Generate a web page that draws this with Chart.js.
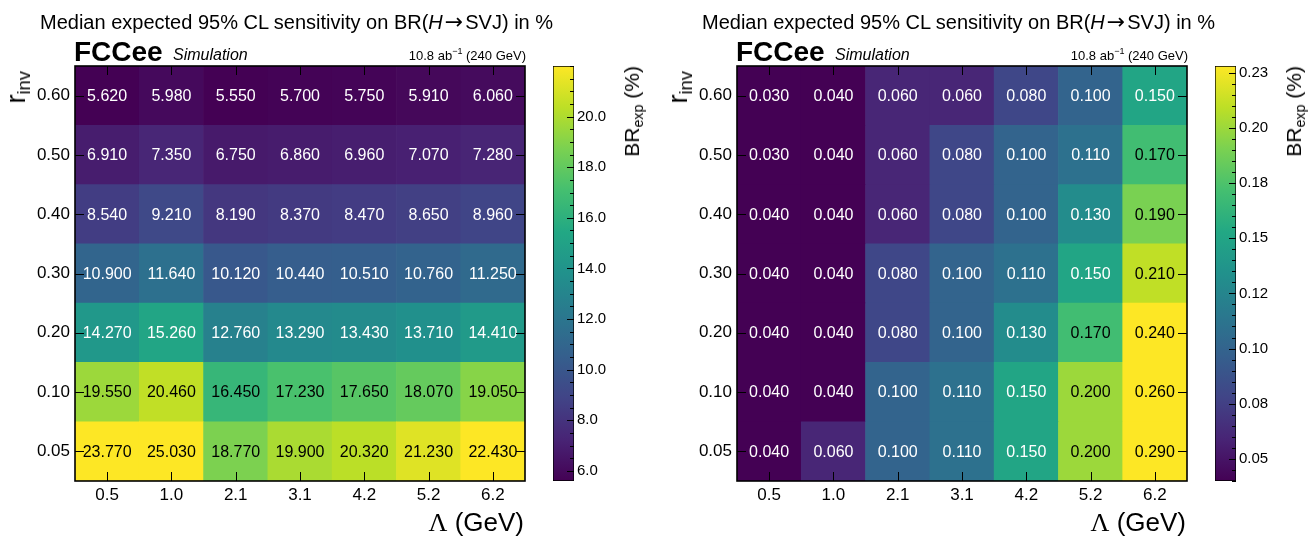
<!DOCTYPE html>
<html>
<head>
<meta charset="utf-8">
<script src="https://cdn.jsdelivr.net/npm/chart.js@4.4.1/dist/chart.umd.min.js"></script>
<style>
  html, body { margin: 0; padding: 0; background: #fff; }
  body { width: 1315px; height: 538px; position: relative; overflow: hidden;
         font-family: "Liberation Sans", Arial, sans-serif; color: #000; }
  .panel { position: absolute; top: 0; width: 660px; height: 538px; }
  .panel canvas { position: absolute; top: 0; }
  .txt { position: absolute; white-space: nowrap; line-height: 1; }
  .title { font-size: 20px; left: 40px; top: 11px; }
  .title .arr { font-family: "DejaVu Sans", sans-serif; font-size: 22px; margin: 0 2px; }
  .fcc { font-size: 28px; font-weight: bold; left: 74px; top: 38px; }
  .sim { font-size: 16px; font-style: italic; left: 173px; top: 47px; }
  .lumi { font-size: 13px; right: 134px; top: 49px; }
  .lumi sup { font-size: 9px; position: relative; top: -2px; vertical-align: top; }
  .xtitle { font-size: 26px; right: 136px; top: 509px; }
  .xtitle .sym { font-family: "Liberation Serif", "DejaVu Serif", serif; }
  .rot { transform-origin: top left; transform: rotate(-90deg) translateX(-100%); }
  .ytitle { font-size: 27px; left: 3px; top: 71px; }
  .ztitle { font-size: 21px; left: 621px; top: 66px; }
  sub { font-size: 68%; vertical-align: -0.25em; }
</style>
</head>
<body>

<div class="panel" id="panelA" style="left:0">
  <canvas id="mapA" width="540" height="538" style="left:0"></canvas>
  <canvas id="barA" width="120" height="538" style="left:540px"></canvas>
  <div class="txt title">Median expected 95% CL sensitivity on BR(<i>H</i><span class="arr">→</span>SVJ) in %</div>
  <div class="txt fcc">FCCee</div>
  <div class="txt sim">Simulation</div>
  <div class="txt lumi">10.8 ab<sup>−1</sup> (240 GeV)</div>
  <div class="txt xtitle"><span class="sym">Λ</span> (GeV)</div>
  <div class="txt rot ytitle">r<sub>inv</sub></div>
  <div class="txt rot ztitle">BR<sub>exp</sub> (%)</div>
</div>

<div class="panel" id="panelB" style="left:662px">
  <canvas id="mapB" width="540" height="538" style="left:0"></canvas>
  <canvas id="barB" width="120" height="538" style="left:540px"></canvas>
  <div class="txt title">Median expected 95% CL sensitivity on BR(<i>H</i><span class="arr">→</span>SVJ) in %</div>
  <div class="txt fcc">FCCee</div>
  <div class="txt sim">Simulation</div>
  <div class="txt lumi">10.8 ab<sup>−1</sup> (240 GeV)</div>
  <div class="txt xtitle"><span class="sym">Λ</span> (GeV)</div>
  <div class="txt rot ytitle">r<sub>inv</sub></div>
  <div class="txt rot ztitle">BR<sub>exp</sub> (%)</div>
</div>

<script>
// Λ bins (x) and r_inv bins (y, bottom to top)
const lambdaLabels = ["0.5", "1.0", "2.1", "3.1", "4.2", "5.2", "6.2"];
const rinvLabels = ["0.05", "0.10", "0.20", "0.30", "0.40", "0.50", "0.60"];

// expected BR limits in %, one row per r_inv (0.05 first)
const brExpA = [
    [23.770, 25.030, 18.770, 19.900, 20.320, 21.230, 22.430],
    [19.550, 20.460, 16.450, 17.230, 17.650, 18.070, 19.050],
    [14.270, 15.260, 12.760, 13.290, 13.430, 13.710, 14.410],
    [10.900, 11.640, 10.120, 10.440, 10.510, 10.760, 11.250],
    [8.540, 9.210, 8.190, 8.370, 8.470, 8.650, 8.960],
    [6.910, 7.350, 6.750, 6.860, 6.960, 7.070, 7.280],
    [5.620, 5.980, 5.550, 5.700, 5.750, 5.910, 6.060]
];
const brExpB = [
    [0.040, 0.060, 0.100, 0.110, 0.150, 0.200, 0.290],
    [0.040, 0.040, 0.100, 0.110, 0.150, 0.200, 0.260],
    [0.040, 0.040, 0.080, 0.100, 0.130, 0.170, 0.240],
    [0.040, 0.040, 0.080, 0.100, 0.110, 0.150, 0.210],
    [0.040, 0.040, 0.060, 0.080, 0.100, 0.130, 0.190],
    [0.030, 0.040, 0.060, 0.080, 0.100, 0.110, 0.170],
    [0.030, 0.040, 0.060, 0.060, 0.080, 0.100, 0.150]
];

// z axis (colour bar) ranges and labelled ticks
const zRangeA = [5.6, 22.0];
const zTicksA = [6, 8, 10, 12, 14, 16, 18, 20];
const zTickLabelsA = ["6.0", "8.0", "10.0", "12.0", "14.0", "16.0", "18.0", "20.0"];
const zRangeB = [0.04, 0.228];
const zTicksB = [0.05, 0.075, 0.1, 0.125, 0.15, 0.175, 0.2, 0.225];
const zTickLabelsB = ["0.05", "0.08", "0.10", "0.12", "0.15", "0.18", "0.20", "0.23"];

const FONT = "'Liberation Sans', Arial, sans-serif";
const VIRIDIS = ["#440154", "#482475", "#414487", "#355f8d", "#2a788e", "#21918c",
                 "#22a884", "#44bf70", "#7ad151", "#bddf26", "#fde725"];
const NO_GRID = { display: false, drawTicks: false, tickLength: 0 };

function hexRgb(h) {
    return [1, 3, 5].map(i => parseInt(h.substr(i, 2), 16));
}
function viridis(t) {
    t = Math.min(1, Math.max(0, t));
    const f = t * (VIRIDIS.length - 1);
    const i = Math.min(VIRIDIS.length - 2, Math.floor(f));
    const a = hexRgb(VIRIDIS[i]), b = hexRgb(VIRIDIS[i + 1]);
    const k = f - i;
    const c = a.map((v, j) => Math.round(v + (b[j] - v) * k));
    return `rgb(${c[0]},${c[1]},${c[2]})`;
}
const frac = (v, z) => (v - z[0]) / (z[1] - z[0]);

// ── heat map: one floating-bar dataset per r_inv row ──
function heatmap(id, values, zRange) {
    const cellText = {
        id: "cellText",
        afterDatasetsDraw(chart) {
            const ctx = chart.ctx;
            ctx.save();
            ctx.font = "16px " + FONT;
            ctx.textAlign = "center";
            ctx.textBaseline = "middle";
            values.forEach((row, r) => {
                chart.getDatasetMeta(r).data.forEach((bar, c) => {
                    const v = row[c];
                    ctx.fillStyle = frac(v, zRange) > 0.62 ? "#000" : "#fff";
                    ctx.fillText(v.toFixed(3), bar.x, (bar.y + bar.base) / 2 + 1);
                });
            });
            ctx.restore();
        }
    };
    // ROOT-like frame with inward tick marks
    const frame = {
        id: "frame",
        afterDraw(chart) {
            const { ctx, chartArea: a, scales: { x, y } } = chart;
            ctx.save();
            ctx.strokeStyle = "#000";
            ctx.lineWidth = 1;
            ctx.beginPath();
            lambdaLabels.forEach((_, i) => {
                const px = Math.round(x.getPixelForValue(i)) + 0.5;
                ctx.moveTo(px, a.bottom); ctx.lineTo(px, a.bottom - 9);
                ctx.moveTo(px, a.top); ctx.lineTo(px, a.top + 9);
            });
            rinvLabels.forEach((_, i) => {
                const py = Math.round(y.getPixelForValue(i + 0.5)) + 0.5;
                ctx.moveTo(a.left, py); ctx.lineTo(a.left + 9, py);
                ctx.moveTo(a.right, py); ctx.lineTo(a.right - 9, py);
            });
            ctx.stroke();
            ctx.lineWidth = 1.6;
            ctx.strokeRect(a.left, a.top, a.right - a.left, a.bottom - a.top);
            ctx.restore();
        }
    };

    new Chart(document.getElementById(id), {
        type: "bar",
        data: {
            labels: lambdaLabels,
            datasets: values.map((row, r) => ({
                data: row.map(() => [r, r + 1]),
                backgroundColor: row.map(v => viridis(frac(v, zRange))),
                borderWidth: 0,
                barPercentage: 1,
                categoryPercentage: 1,
                grouped: false
            }))
        },
        options: {
            responsive: false,
            animation: false,
            layout: { padding: { top: 66, right: 15, left: 0, bottom: 0 } },
            plugins: { legend: { display: false }, tooltip: { enabled: false } },
            scales: {
                x: {
                    grid: NO_GRID,
                    border: { display: false },
                    ticks: { color: "#000", font: { family: FONT, size: 17 }, padding: 4, maxRotation: 0 },
                    afterFit: s => { s.height = 57; }
                },
                y: {
                    type: "linear", min: 0, max: 7,
                    grid: NO_GRID,
                    border: { display: false },
                    afterBuildTicks: s => { s.ticks = rinvLabels.map((_, i) => ({ value: i + 0.5 })); },
                    ticks: { color: "#000", font: { family: FONT, size: 17 }, padding: 5,
                             callback: (v, i) => rinvLabels[i] },
                    afterFit: s => { s.width = 75; }
                }
            }
        },
        plugins: [cellText, frame]
    });
}

// ── colour bar: a single floating bar filled with the palette ──
function colorBar(id, zRange, ticks, tickLabels, minorStep) {
    const barTicks = {
        id: "barTicks",
        afterDraw(chart) {
            const { ctx, chartArea: a, scales: { y } } = chart;
            ctx.save();
            ctx.strokeStyle = "#000";
            ctx.lineWidth = 1;
            ctx.beginPath();
            const n0 = Math.ceil(zRange[0] / minorStep - 1e-6);
            const n1 = Math.floor(zRange[1] / minorStep + 1e-6);
            for (let n = n0; n <= n1; n++) {
                const v = n * minorStep;
                const major = ticks.some(t => Math.abs(t - v) < minorStep / 10);
                const py = Math.round(y.getPixelForValue(v)) + 0.5;
                ctx.moveTo(a.right, py);
                ctx.lineTo(a.right - (major ? 7 : 4), py);
            }
            ctx.stroke();
            ctx.restore();
        }
    };

    new Chart(document.getElementById(id), {
        type: "bar",
        data: {
            labels: [""],
            datasets: [{
                data: [zRange],
                backgroundColor: c => {
                    const a = c.chart.chartArea;
                    if (!a) return VIRIDIS[0];
                    const g = c.chart.ctx.createLinearGradient(0, a.bottom, 0, a.top);
                    VIRIDIS.forEach((col, i) => g.addColorStop(i / (VIRIDIS.length - 1), col));
                    return g;
                },
                borderColor: "#000",
                borderWidth: 1,
                borderSkipped: false,
                barPercentage: 1,
                categoryPercentage: 1
            }]
        },
        options: {
            responsive: false,
            animation: false,
            layout: { padding: { top: 66, left: 13, bottom: 57, right: 0 } },
            plugins: { legend: { display: false }, tooltip: { enabled: false } },
            scales: {
                x: { display: false },
                y: {
                    position: "right",
                    min: zRange[0], max: zRange[1],
                    grid: NO_GRID,
                    border: { display: false },
                    afterBuildTicks: s => { s.ticks = ticks.map(v => ({ value: v })); },
                    ticks: { color: "#000", font: { family: FONT, size: 15 }, padding: 3,
                             callback: (v, i) => tickLabels[i] },
                    afterFit: s => { s.width = 86; }
                }
            }
        },
        plugins: [barTicks]
    });
}

heatmap("mapA", brExpA, zRangeA);
colorBar("barA", zRangeA, zTicksA, zTickLabelsA, 0.5);
heatmap("mapB", brExpB, zRangeB);
colorBar("barB", zRangeB, zTicksB, zTickLabelsB, 0.005);
</script>
</body>
</html>
